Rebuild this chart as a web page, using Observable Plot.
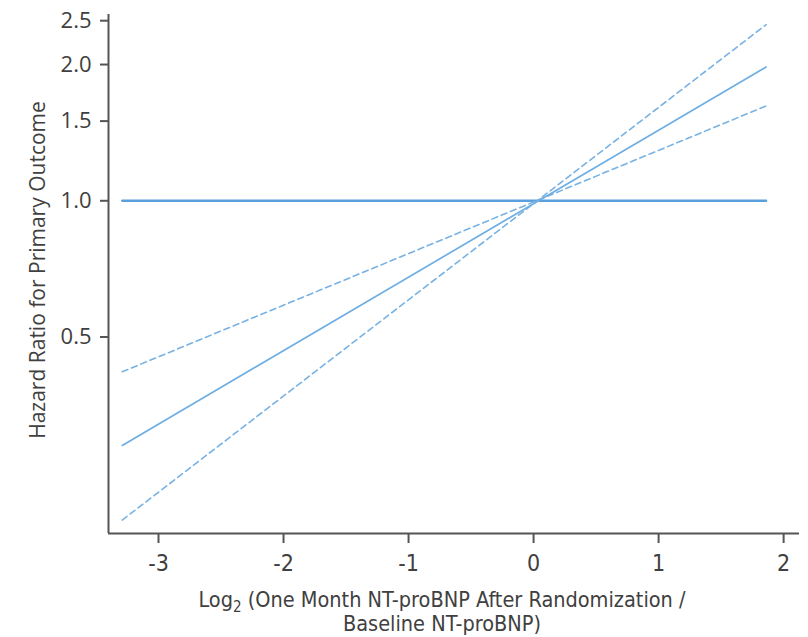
<!DOCTYPE html>
<html>
<head>
<meta charset="utf-8">
<script src="https://cdn.jsdelivr.net/npm/d3@7"></script>
<script src="https://cdn.jsdelivr.net/npm/@observablehq/plot@0.6"></script>
<style>
  html, body { margin: 0; padding: 0; background: #fff; }
  #chart svg { display: block; }
</style>
</head>
<body>
<div id="chart"></div>
<script>
// Log hazard ratio is linear in log2 NT-proBNP change,
// so each curve is fully described by its two end points.
const xEnds = [-3.29, 1.86];
const hrEstimate = [0.288, 1.975];
const hrBoundShallow = [0.419, 1.62];
const hrBoundSteep = [0.197, 2.45];
const hrReference = [1, 1];

const xTicks = [-3, -2, -1, 0, 1, 2];
const yTicks = [0.5, 1.0, 1.5, 2.0, 2.5];
const xDomain = [-3.4, 2.127];
const yDomain = [0.184, 2.58];

const toRows = (hr) => xEnds.map((x, i) => ({x, hr: hr[i]}));

const narrow = "'DejaVu Sans Condensed', 'Liberation Sans Narrow', sans-serif";
const regular = "'Open Sans', 'Noto Sans', sans-serif";
const ink = "#404040";
const axisGray = "#555555";

const plot = Plot.plot({
  width: 808,
  height: 637,
  marginLeft: 108,
  marginRight: 9,
  marginTop: 14,
  marginBottom: 104,
  style: { background: "#fff", overflow: "visible" },
  x: { domain: xDomain },
  y: { type: "log", domain: yDomain },
  marks: [
    Plot.ruleY([yDomain[0]], { stroke: axisGray, strokeWidth: 2 }),
    Plot.ruleX([xDomain[0]], { stroke: axisGray, strokeWidth: 2 }),
    Plot.axisX({
      ticks: xTicks,
      tickFormat: d => String(d),
      tickSize: 10,
      tickPadding: 11,
      stroke: axisGray,
      strokeWidth: 2,
      fill: ink,
      fontSize: 23,
      fontFamily: narrow,
      label: null
    }),
    Plot.axisY({
      ticks: yTicks,
      tickFormat: d3.format(".1f"),
      tickSize: 8,
      tickPadding: 9,
      stroke: axisGray,
      strokeWidth: 2,
      fill: ink,
      fontSize: 22,
      fontFamily: regular,
      label: null
    }),
    Plot.line(toRows(hrReference), { x: "x", y: "hr", stroke: "#5a9fdb", strokeWidth: 2.4 }),
    Plot.line(toRows(hrBoundShallow), { x: "x", y: "hr", stroke: "#78b2e3", strokeWidth: 1.6, strokeDasharray: "6,4" }),
    Plot.line(toRows(hrBoundSteep), { x: "x", y: "hr", stroke: "#78b2e3", strokeWidth: 1.6, strokeDasharray: "6,4" }),
    Plot.line(toRows(hrEstimate), { x: "x", y: "hr", stroke: "#6eaee3", strokeWidth: 1.7 })
  ]
});

const svg = d3.select(plot);

// Y-axis title, rotated
svg.append("text")
  .attr("transform", "translate(45,270) rotate(-90)")
  .attr("text-anchor", "middle")
  .attr("fill", ink)
  .style("font-family", regular)
  .style("font-size", "21px")
  .text("Hazard Ratio for Primary Outcome");

// X-axis title on two lines, with subscript on Log
const xt = svg.append("text")
  .attr("text-anchor", "middle")
  .attr("fill", ink)
  .style("font-family", narrow)
  .style("font-size", "21.5px");
const l1 = xt.append("tspan").attr("x", 442).attr("y", 607);
l1.append("tspan").text("Log");
l1.append("tspan").attr("dy", 5).style("font-size", "15px").text("2");
l1.append("tspan").attr("dy", -5).text(" (One Month NT-proBNP After Randomization /");
xt.append("tspan").attr("x", 442).attr("y", 631).text("Baseline NT-proBNP)");

document.getElementById("chart").appendChild(plot);
</script>
</body>
</html>
